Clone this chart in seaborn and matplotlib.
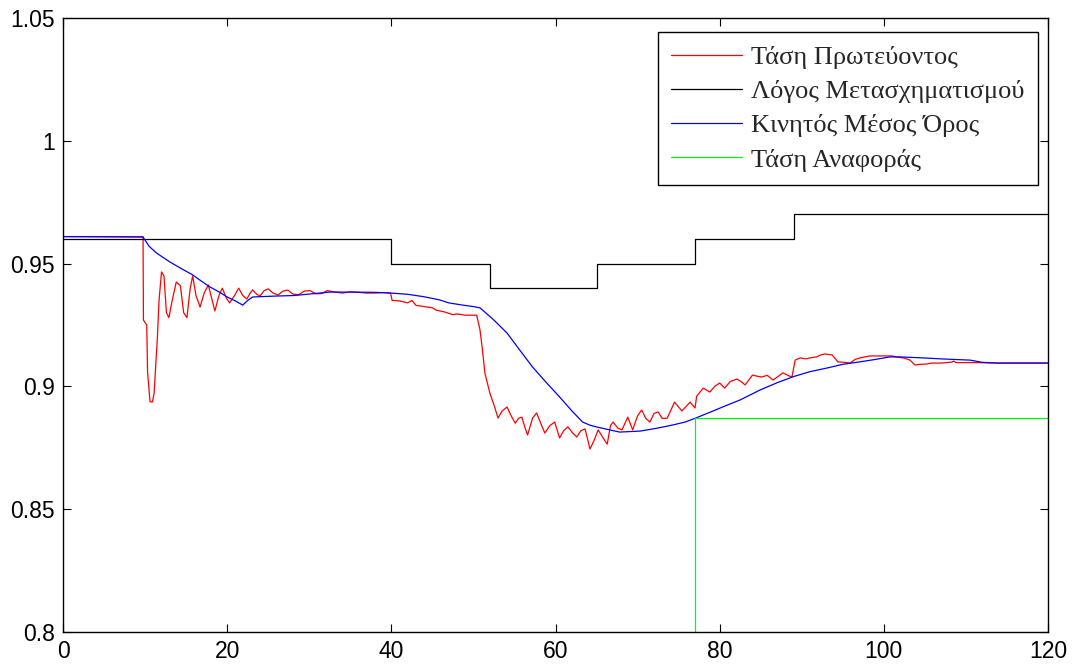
import numpy as np
import pandas as pd
import matplotlib
matplotlib.use("Agg")
import matplotlib.pyplot as plt
import seaborn as sns

# ---- data ----
labels = ["Τάση Πρωτεύοντος", "Λόγος Μετασχηματισμού", "Κινητός Μέσος Όρος", "Τάση Αναφοράς"]

t_red = [0, 9.75, 9.8, 10.2, 10.3, 10.6, 10.9, 11.1, 11.5, 11.7, 12.0, 12.3, 12.6, 12.9, 13.3, 13.8,
         14.3, 14.7,
         15.1, 15.5, 15.8, 16.2, 16.7, 17.2, 17.7, 18.1, 18.5, 19.0, 19.4, 19.9, 20.3, 20.9, 21.4,
         21.9, 22.4, 22.8, 23.1, 23.6, 24.0, 24.5, 25.0, 25.6, 26.2, 26.8, 27.4, 28.0, 28.7, 29.4,
         30.1, 30.8, 31.5, 32.2, 33, 34, 35, 36, 37, 38, 39, 39.9, 40.1, 41, 42, 42.5, 43, 44, 45,
         45.5, 46.5, 47.5, 48, 49, 50.4, 50.8, 51.1, 51.4, 52.0, 52.5, 53.0, 53.5, 54.1, 54.6, 55.1,
         55.5, 55.9, 56.3, 56.6, 57.2, 57.7, 58.2, 58.7, 59.3, 59.9, 60.5, 61.0, 61.5, 62.1, 62.6,
         63.1, 63.6, 64.2, 64.7, 65.2, 65.8, 66.3, 66.7, 67.0, 67.6, 68.1, 68.8, 69.4, 70.0, 70.5,
         71.0, 71.5, 72.0, 72.5, 73.0, 73.6, 74.5, 75.4, 76.4, 77.0, 77.2, 78.0, 78.8, 79.4, 80.0,
         80.6, 81.3, 82.1, 82.6, 83.1, 84.0, 84.5, 85.1, 85.8, 86.5, 87.1, 87.7, 88.3, 88.8, 89.2,
         89.8, 90.5, 91.0, 91.8, 92.3, 92.8, 93.7, 94.4, 95.2, 95.9, 96.5, 97.1, 98.3, 100.0, 101.0,
         101.5, 102.5, 103.2, 103.8, 104.5, 105.2, 105.8, 107, 108.3, 108.5, 108.8, 111, 113.8, 120]
v_red = [0.961, 0.961, 0.927, 0.925, 0.906, 0.8937, 0.8937, 0.8973, 0.920, 0.935, 0.9466, 0.945,
         0.930, 0.928, 0.935,
         0.9425, 0.941, 0.930, 0.928, 0.940, 0.945, 0.937, 0.9323, 0.938, 0.9413, 0.936, 0.9307,
         0.937, 0.940, 0.936, 0.934, 0.937, 0.940, 0.937, 0.9356, 0.938, 0.9393, 0.9375, 0.9368,
         0.939, 0.9397, 0.938, 0.9372, 0.9388, 0.9392, 0.9376, 0.9373, 0.9388, 0.939, 0.9377,
         0.9378, 0.939, 0.9385, 0.938, 0.9385, 0.9383, 0.938, 0.938, 0.9382, 0.938, 0.935, 0.9348,
         0.934, 0.935, 0.933, 0.9325, 0.932, 0.931, 0.9303, 0.9292, 0.9295, 0.929, 0.929, 0.923,
         0.915, 0.9054, 0.8973, 0.8925, 0.8871, 0.890, 0.8916, 0.888, 0.885, 0.887, 0.8875, 0.883,
         0.8802, 0.887, 0.8892, 0.885, 0.881, 0.884, 0.8855, 0.879, 0.882, 0.8835, 0.881, 0.8794,
         0.882, 0.8827, 0.8745, 0.878, 0.8823, 0.879, 0.8765, 0.884, 0.8855, 0.883, 0.8823, 0.8875,
         0.8823, 0.888, 0.8904, 0.887, 0.8855, 0.889, 0.8896, 0.887, 0.887, 0.8936, 0.890, 0.8936,
         0.8912, 0.896, 0.8993, 0.8977, 0.900, 0.9014, 0.8993, 0.902, 0.903, 0.902, 0.9006, 0.9046,
         0.9042, 0.9038, 0.9045, 0.9026, 0.904, 0.9055, 0.9045, 0.9038, 0.9107, 0.9116, 0.9112,
         0.9116, 0.912, 0.9128, 0.9132, 0.9128, 0.910, 0.9098, 0.9095, 0.911, 0.9116, 0.9124,
         0.9124, 0.9124, 0.912, 0.9115, 0.9107, 0.9087, 0.909, 0.9091, 0.9095, 0.9095, 0.9099,
         0.9103, 0.9097, 0.9097, 0.9095, 0.9095]

t_tap = [0, 40, 52, 65, 77, 89, 120]
v_tap = [0.960, 0.950, 0.940, 0.950, 0.960, 0.970, 0.970]

t_avg = [0, 9.75, 10.5, 11.4, 12.2, 13.0, 14.4, 15.8, 16.8, 17.9, 19.0, 20.0, 21.0, 21.9, 22.5, 23.1,
         24.5, 26.1, 28.1, 30, 32.5, 35, 38, 40, 42, 44, 45.9, 47, 48.7, 50.0, 50.8, 52.5, 54.1,
         55.6, 57.2, 58.9, 60.5, 62.0, 63.3, 64.2, 65.0, 66.6, 67.8, 70.3, 72.4, 74.3, 75.8, 77.0,
         79.2, 81, 82.5, 84.9, 87, 89, 91, 93.1, 95, 97.1, 99, 100.7, 102, 104.8, 107, 110.5, 112,
         113.8, 120]
v_avg = [0.961, 0.9608, 0.957, 0.9543, 0.9525, 0.9507, 0.948, 0.9454, 0.943, 0.9405, 0.9385, 0.9364,
         0.9348, 0.9331, 0.935, 0.9364, 0.9366, 0.9368, 0.937, 0.9376, 0.9384, 0.9384, 0.9383,
         0.938, 0.9375, 0.9365, 0.9352, 0.934, 0.9331, 0.9325, 0.932, 0.927, 0.9217, 0.915, 0.9079,
         0.9015, 0.8957, 0.890, 0.8855, 0.8842, 0.8835, 0.8823, 0.8814, 0.8818, 0.883, 0.8843,
         0.8855, 0.887, 0.890, 0.8925, 0.8945, 0.8985, 0.9015, 0.904, 0.906, 0.9075, 0.909, 0.910,
         0.911, 0.912, 0.912, 0.9116, 0.9112, 0.9107, 0.9098, 0.9095, 0.9095]

t_ref = [0, 77, 120]
v_ref = [0.0, 0.887, 0.887]

x_ticks = [0, 20, 40, 60, 80, 100, 120]
y_ticks = [0.8, 0.85, 0.9, 0.95, 1.0, 1.05]
y_tick_labels = ["0.8", "0.85", "0.9", "0.95", "1", "1.05"]

# ---- plot ----
sns.set_style("ticks")
plt.rcParams["font.family"] = ["Liberation Sans", "DejaVu Sans"]

fig = plt.figure(figsize=(10.75, 6.66), dpi=100)
ax = fig.add_axes([63 / 1075, 34 / 666, 985 / 1075, 614 / 666])

lw = 0.9
sns.lineplot(x=t_red, y=v_red, ax=ax, color=(1, 0, 0), lw=lw, estimator=None, sort=False, label=labels[0])
sns.lineplot(x=t_tap, y=v_tap, ax=ax, color="black", lw=lw, estimator=None, sort=False,
             drawstyle="steps-post", label=labels[1])
sns.lineplot(x=t_avg, y=v_avg, ax=ax, color=(0, 0, 1), lw=lw, estimator=None, sort=False, label=labels[2])
sns.lineplot(x=t_ref, y=v_ref, ax=ax, color=(0, 1, 0), lw=lw, estimator=None, sort=False,
             drawstyle="steps-post", label=labels[3])

ax.set_xlim(0, 120)
ax.set_ylim(0.8, 1.05)
ax.set_xticks(x_ticks)
ax.set_xticklabels([str(v) for v in x_ticks])
ax.set_yticks(y_ticks)
ax.set_yticklabels(y_tick_labels)
ax.tick_params(direction="in", length=6, width=0.8, top=True, right=True, labelsize=16.5,
               colors="black")
ax.tick_params(axis="y", pad=6)
ax.tick_params(axis="x", pad=6)
for s in ax.spines.values():
    s.set_color("black")
    s.set_linewidth(1.0)
ax.set_xlabel("")
ax.set_ylabel("")

leg = ax.legend(loc="upper right", bbox_to_anchor=(0.9898, 0.977), frameon=True, fancybox=False,
                framealpha=1, edgecolor="black", prop={"family": ["Liberation Serif", "DejaVu Serif"], "size": 19},
                handlelength=2.7, handletextpad=0.34, labelspacing=0.41, borderpad=0.5, borderaxespad=0)
leg.get_frame().set_linewidth(1.0)

fig.savefig("out.png", dpi=100)
